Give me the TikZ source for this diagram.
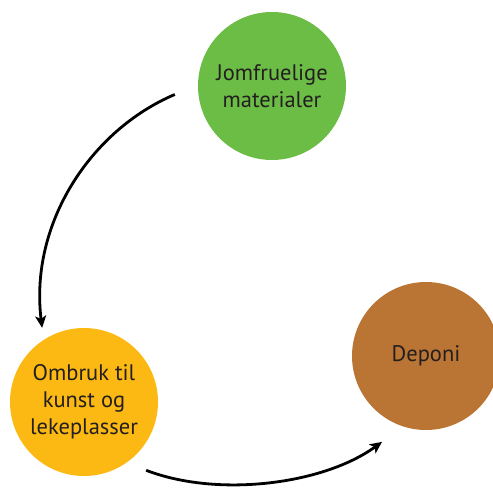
\documentclass[tikz,border=0pt]{standalone}
\usepackage{fontspec}
\setmainfont{PT Sans}
\usetikzlibrary{arrows.meta}
\definecolor{leafgreen}{RGB}{108,189,69}
\definecolor{sunyellow}{RGB}{253,185,19}
\definecolor{clayBrown}{RGB}{186,116,51}
\definecolor{inkdark}{RGB}{35,31,32}
\tikzset{
  stage/.style={circle, minimum size=148pt, inner sep=0pt, text=inkdark,
    align=center, font=\fontsize{22.5}{27}\selectfont},
  flow/.style={line width=2.8pt, -{Stealth[length=12pt,width=11pt,inset=3pt]}},
}
\begin{document}
\begin{tikzpicture}[x=1pt,y=-1pt]
  \useasboundingbox (0,0) rectangle (493,492);
  \node[stage, fill=leafgreen] (virgin) at (272,86) {Jomfruelige\\materialer};
  \node[stage, fill=sunyellow] (reuse) at (84,402) {Ombruk til\\kunst og\\lekeplasser};
  \node[stage, fill=clayBrown] (landfill) at (426,356) {Deponi};
  \draw[flow, shorten <=25pt, shorten >=12pt]
    (virgin.179) to[out=203, in=97] (reuse.123);
  \draw[flow, shorten <=21pt, shorten >=26pt]
    (reuse.305) to[out=-21, in=216, looseness=0.9] (landfill.252);
\end{tikzpicture}
\end{document}
